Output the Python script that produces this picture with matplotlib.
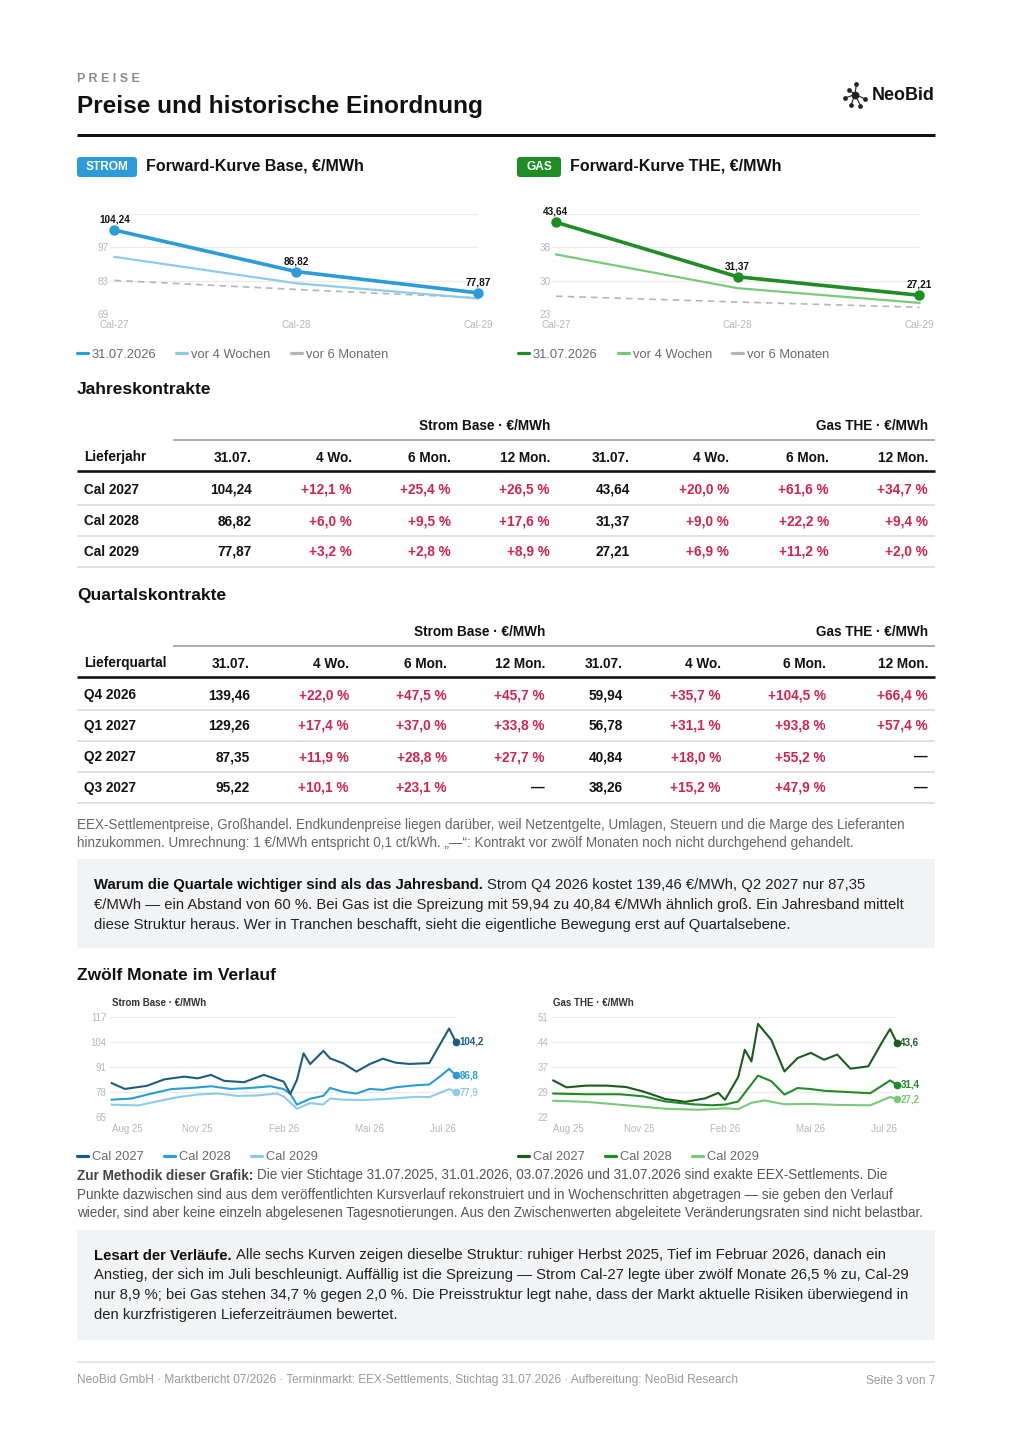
import matplotlib
matplotlib.use('Agg')
import matplotlib.pyplot as plt
from matplotlib.patches import FancyBboxPatch, Rectangle
import numpy as np

W, H = 1012, 1432
plt.rcParams['font.family'] = ['Liberation Sans', 'DejaVu Sans']

# ---------------- Daten ----------------
fwd_labels = ['Cal-27', 'Cal-28', 'Cal-29']
strom_now = [104.24, 86.82, 77.87]
strom_4w = [93.0, 81.9, 75.5]
strom_6m = [83.1, 79.3, 75.8]
gas_now = [43.64, 31.37, 27.21]
gas_4w = [36.4, 28.8, 25.5]
gas_6m = [27.0, 25.7, 24.5]
strom_fwd_ticks = [69, 83, 97, 111]
strom_fwd_labels = ['69', '83', '97']
gas_fwd_ticks = [23, 30.5, 38, 45.5]
gas_fwd_labels = ['23', '30', '38']

jahr_rows = ['Cal 2027', 'Cal 2028', 'Cal 2029']
jahr_strom_price = [104.24, 86.82, 77.87]
jahr_strom_chg = [[12.1, 25.4, 26.5], [6.0, 9.5, 17.6], [3.2, 2.8, 8.9]]
jahr_gas_price = [43.64, 31.37, 27.21]
jahr_gas_chg = [[20.0, 61.6, 34.7], [9.0, 22.2, 9.4], [6.9, 11.2, 2.0]]

quartal_rows = ['Q4 2026', 'Q1 2027', 'Q2 2027', 'Q3 2027']
quartal_strom_price = [139.46, 129.26, 87.35, 95.22]
quartal_strom_chg = [[22.0, 47.5, 45.7], [17.4, 37.0, 33.8], [11.9, 28.8, 27.7], [10.1, 23.1, None]]
quartal_gas_price = [59.94, 56.78, 40.84, 38.26]
quartal_gas_chg = [[35.7, 104.5, 66.4], [31.1, 93.8, 57.4], [18.0, 55.2, None], [15.2, 47.9, None]]

col_heads = ['31.07.', '4 Wo.', '6 Mon.', '12 Mon.']

# Wochenverlauf (Woche 0 = 31.07.2025, Woche 52 = 31.07.2026)
month_ticks = [0, 13, 26, 39, 52]
month_labels = ['Aug 25', 'Nov 25', 'Feb 26', 'Mai 26', 'Jul 26']

s27_wk = [0, 2, 5.3, 8, 11, 13, 15, 17, 20, 23, 26, 27, 28, 29, 30, 32, 33, 35, 37, 39, 41, 43, 45, 48, 51, 52]
s27_val = [82.6, 79.6, 81.2, 84.6, 86.0, 85.1, 86.9, 83.8, 83.1, 86.9, 83.4, 77.0, 84.3, 98.1, 92.5, 99.4, 95.5,
           92.9, 88.6, 92.5, 95.3, 93.2, 92.6, 93.0, 111.0, 104.2]
s28_wk = [0, 3, 5.8, 9, 12, 15, 18, 21, 24, 26, 27, 28, 30, 32, 33, 35, 37, 39, 41, 43, 46, 48, 49.6, 51, 52]
s28_val = [74.0, 74.6, 77.0, 79.5, 80.1, 81.0, 79.6, 80.1, 81.0, 79.5, 77.0, 71.4, 74.5, 76.0, 80.1, 78.1, 77.2,
           79.6, 79.1, 80.5, 81.5, 81.9, 86.0, 90.0, 86.8]
s29_wk = [0, 4, 6.8, 10, 13, 16, 19, 22, 25, 26, 28, 30, 32, 33, 35, 38, 42, 46, 48, 51, 52]
s29_val = [71.4, 71.0, 73.1, 75.3, 76.7, 77.2, 76.0, 76.2, 77.2, 75.7, 69.3, 72.2, 71.5, 74.6, 74.0, 73.8, 74.5,
           75.5, 75.3, 79.5, 77.9]

g27_wk = [0, 2, 5, 8, 11, 13.6, 17, 20, 23, 25, 26, 28, 29, 30, 31, 33, 35, 37, 39, 41, 43, 45, 47.7, 50, 51, 52]
g27_val = [32.6, 30.6, 31.1, 31.1, 30.7, 29.4, 27.2, 26.4, 27.4, 29.0, 27.0, 33.6, 41.5, 38.1, 49.0, 44.4, 35.2,
           39.1, 40.6, 38.6, 40.1, 36.0, 36.7, 44.4, 47.5, 43.6]
g28_wk = [0, 5, 10, 13.6, 17, 21, 24, 26, 28, 31, 33, 35, 37, 39, 41, 45, 48, 51, 52]
g28_val = [28.8, 28.6, 28.6, 28.0, 26.5, 25.7, 25.4, 25.6, 26.5, 34.0, 32.4, 28.5, 30.4, 30.1, 29.6, 29.2, 28.9,
           32.6, 31.4]
g29_wk = [0, 5, 11, 17, 22, 26, 28, 30, 32, 35, 39, 43, 48, 51, 52]
g29_val = [26.7, 26.4, 25.4, 24.4, 24.1, 24.5, 24.3, 26.1, 26.8, 25.7, 25.8, 25.5, 25.4, 27.8, 27.2]

strom_hist_ticks = [65, 78, 91, 104, 117]
strom_hist_labels = ['65', '78', '91', '104', '117']
gas_hist_ticks = [22, 29.25, 36.5, 43.75, 51]
gas_hist_labels = ['22', '29', '37', '44', '51']

# ---------------- Farben ----------------
BLUE = '#2b9cd8'
BLUE_L = '#8ecbea'
NAVY = '#1c5d7e'
GREEN = '#1f8c24'
GREEN_L = '#79c978'
GREEN_D = '#1b5c1d'
GREY_D = '#b5b5b5'
RED = '#d4244b'
TICK = '#b8b8b8'
GRID = '#ebebeb'


def de(v, nd=2):
    return f'{v:.{nd}f}'.replace('.', ',')


def pct(v):
    if v is None:
        return '—'
    return ('+' if v >= 0 else '') + de(v, 1) + ' %'


fig = plt.figure(figsize=(W / 100, H / 100), dpi=100)
page = fig.add_axes([0, 0, 1, 1])
page.set_xlim(0, W)
page.set_ylim(H, 0)
page.axis('off')
renderer = fig.canvas.get_renderer()


def txt(x, y, s, size=10, color='#222222', weight='normal', ha='left', va='center', **kw):
    if va == 'center':
        y += 1.5
    return page.text(x, y, s, fontsize=size, color=color, fontweight=weight, ha=ha, va=va, **kw)


def hline(y, x0, x1, color, lw):
    page.plot([x0, x1], [y, y], color=color, lw=lw * 0.72, solid_capstyle='butt')


def px_axes(x0, y0, x1, y1):
    ax = fig.add_axes([x0 / W, 1 - y1 / H, (x1 - x0) / W, (y1 - y0) / H])
    ax.set_facecolor('none')
    for sp in ax.spines.values():
        sp.set_visible(False)
    return ax


def rich_line(x, y, bold, rest, size, color_b, color_r):
    if bold:
        t = txt(x, y, bold, size, color_b, 'bold')
        x = t.get_window_extent(renderer).x1 + size * 0.278 * 100 / 72
    txt(x, y, rest, size, color_r)


def legend(y, items, size=9.3):
    for hx, label, color in items:
        page.plot([hx, hx + 11], [y, y], color=color, lw=3.2 * 0.72, solid_capstyle='round')
        txt(hx + 15, y, label, size, '#6a6a6a')


# ---------------- Kopf ----------------
txt(77, 78, 'P R E I S E', 8.9, '#8a8a8a', 'bold')
txt(77, 105, 'Preise und historische Einordnung', 17.6, '#111111', 'bold')
hline(135, 77, 935, '#111111', 3)

# Logo
cx, cy = 855, 94.5
for ex, ey in [(856.5, 83.5), (845, 98), (851, 105), (860.5, 105.5), (865.5, 99), (849.5, 90)]:
    page.plot([cx, ex], [cy, ey], color='#222222', lw=0.8)
    page.plot(ex, ey, 'o', color='#222222', ms=2.4)
page.plot(cx, cy, 'o', color='#222222', ms=4.6)
txt(871.5, 94, 'NeoBid', 12.9, '#111111', 'bold')


# ---------------- Forward-Kurven ----------------
def badge(x, w, label, color):
    page.add_patch(FancyBboxPatch((x, 157), w, 20, boxstyle='round,pad=0,rounding_size=3',
                                  fc=color, ec='none'))
    txt(x + w / 2, 166, label, 8.6, 'white', 'bold', ha='center')


def forward_chart(px_first, px_last, now, w4, m6, ticks, tick_labels, c_main, c_light):
    ppu = (px_last - px_first) / 2
    ax = px_axes(px_first - 4, 214, px_last, 314)
    ax.set_xlim(-4 / ppu, 2)
    ax.set_ylim(ticks[0], ticks[-1])
    for t in ticks:
        ax.axhline(t, color=GRID, lw=0.9, zorder=0)
    x = np.arange(len(fwd_labels))
    ax.plot(x, m6, color=GREY_D, lw=1.2, ls=(0, (4, 3)), clip_on=False)
    ax.plot(x, w4, color=c_light, lw=1.6, clip_on=False)
    ax.plot(x, now, color=c_main, lw=2.6, marker='o', ms=6.5, clip_on=False, zorder=5)
    for xi, v in zip(x, now):
        ax.annotate(de(v), (xi, v), xytext=(0, 7.5), textcoords='offset points', ha='center',
                    va='center', fontsize=7.2, fontweight='bold', color='#111111', zorder=6)
    ax.set_yticks(ticks[:-1])
    ax.set_yticklabels(tick_labels)
    ax.set_xticks(x)
    ax.set_xticklabels(fwd_labels)
    ax.tick_params(axis='y', length=0, pad=1, labelsize=7.2, labelcolor=TICK)
    ax.tick_params(axis='x', length=0, pad=4.5, labelsize=7.2, labelcolor=TICK)
    return ax


badge(77, 60, 'STROM', BLUE)
txt(146, 164.5, 'Forward-Kurve Base, €/MWh', 11.5, '#111111', 'bold')
forward_chart(114.5, 478, strom_now, strom_4w, strom_6m, strom_fwd_ticks, strom_fwd_labels, BLUE, BLUE_L)
legend(353, [(77, '31.07.2026', BLUE), (176, 'vor 4 Wochen', BLUE_L), (291, 'vor 6 Monaten', GREY_D)])

badge(517, 44, 'GAS', GREEN)
txt(570, 164.5, 'Forward-Kurve THE, €/MWh', 11.5, '#111111', 'bold')
forward_chart(556, 919.5, gas_now, gas_4w, gas_6m, gas_fwd_ticks, gas_fwd_labels, GREEN, GREEN_L)
legend(353, [(518, '31.07.2026', GREEN), (618, 'vor 4 Wochen', GREEN_L), (732, 'vor 6 Monaten', GREY_D)])


# ---------------- Tabellen ----------------
def table(y_group, first_label, cols, rows, sp, sc, gp, gc, row_ys):
    size = 9.8
    txt(cols[3], y_group, 'Strom Base · €/MWh', size, '#111111', 'bold', ha='right')
    txt(cols[7], y_group, 'Gas THE · €/MWh', size, '#111111', 'bold', ha='right')
    hline(y_group + 15, 173, 935, '#9a9a9a', 1.6)
    yh = y_group + 31
    txt(84, yh, first_label, size, '#111111', 'bold')
    for i, h in enumerate(col_heads + col_heads):
        txt(cols[i], yh, h, size, '#111111', 'bold', ha='right')
    hline(yh + 15, 77, 935, '#111111', 2.6)
    for r, label in enumerate(rows):
        y = row_ys[r]
        txt(84, y, label, size, '#111111', 'bold')
        txt(cols[0], y, de(sp[r]), size, '#111111', 'bold', ha='right')
        txt(cols[4], y, de(gp[r]), size, '#111111', 'bold', ha='right')
        for k in range(3):
            for base, vals in ((1, sc), (5, gc)):
                v = vals[r][k]
                txt(cols[base + k], y, pct(v), size, '#111111' if v is None else RED, 'bold', ha='right')
        hline(y + 16, 77, 935, '#dedede', 1.8)


txt(77, 388, 'Jahreskontrakte', 12.5, '#111111', 'bold')
table(425, 'Lieferjahr', [252, 352, 451, 550, 630, 729, 829, 928], jahr_rows,
      jahr_strom_price, jahr_strom_chg, jahr_gas_price, jahr_gas_chg, [488.5, 519.5, 550.5])

txt(77, 594, 'Quartalskontrakte', 12.5, '#111111', 'bold')
table(631, 'Lieferquartal', [250, 349, 447, 545, 623, 721, 826, 928], quartal_rows,
      quartal_strom_price, quartal_strom_chg, quartal_gas_price, quartal_gas_chg,
      [693.5, 724.5, 755.5, 786.5])

BODY = 10.7
NOTE = 9.75
txt(77, 823, 'EEX-Settlementpreise, Großhandel. Endkundenpreise liegen darüber, weil Netzentgelte, Umlagen, '
             'Steuern und die Marge des Lieferanten', NOTE, '#666666')
txt(77, 841, 'hinzukommen. Umrechnung: 1 €/MWh entspricht 0,1 ct/kWh. „—“: Kontrakt vor zwölf Monaten noch '
             'nicht durchgehend gehandelt.', NOTE, '#666666')

page.add_patch(Rectangle((77, 859), 858, 89, fc='#f2f3f5', ec='none'))
rich_line(94, 884, 'Warum die Quartale wichtiger sind als das Jahresband.',
          'Strom Q4 2026 kostet 139,46 €/MWh, Q2 2027 nur 87,35', BODY, '#111111', '#222222')
rich_line(94, 904, '', '€/MWh — ein Abstand von 60 %. Bei Gas ist die Spreizung mit 59,94 zu 40,84 €/MWh '
                       'ähnlich groß. Ein Jahresband mittelt', BODY, '#111111', '#222222')
rich_line(94, 924, '', 'diese Struktur heraus. Wer in Tranchen beschafft, sieht die eigentliche Bewegung '
                       'erst auf Quartalsebene.', BODY, '#111111', '#222222')

# ---------------- Zwölf Monate ----------------
txt(77, 974, 'Zwölf Monate im Verlauf', 12.5, '#111111', 'bold')


def hist_chart(px_first, px_last, title, series, ticks, tick_labels):
    ppw = (px_last - px_first) / 52
    ax = px_axes(px_first - 2, 1017, px_last, 1117)
    ax.set_xlim(-2 / ppw, 52)
    ax.set_ylim(ticks[0], ticks[-1])
    for t in ticks:
        ax.axhline(t, color=GRID, lw=0.9, zorder=0)
    for wk, vals, color in series:
        ax.plot(wk, vals, color=color, lw=1.5, clip_on=False)
        ax.plot(wk[-1], vals[-1], 'o', color=color, ms=4.5, clip_on=False)
        ax.annotate(de(vals[-1], 1), (wk[-1], vals[-1]), xytext=(2.6, 0), textcoords='offset points',
                    ha='left', va='center', fontsize=7, fontweight='bold', color=color)
    ax.set_yticks(ticks)
    ax.set_yticklabels(tick_labels)
    ax.set_xticks(month_ticks)
    ax.set_xticklabels(month_labels)
    labs = ax.get_xticklabels()
    labs[0].set_ha('left')
    labs[-1].set_ha('right')
    ax.tick_params(axis='y', length=0, pad=2.2, labelsize=7, labelcolor=TICK)
    ax.tick_params(axis='x', length=0, pad=5.2, labelsize=7, labelcolor=TICK)
    txt(px_first, 1001.5, title, 7, '#333333', 'bold')
    return ax


hist_chart(111.7, 455.7, 'Strom Base · €/MWh',
           [(s29_wk, s29_val, BLUE_L), (s28_wk, s28_val, BLUE), (s27_wk, s27_val, NAVY)],
           strom_hist_ticks, strom_hist_labels)
hist_chart(553.3, 896.7, 'Gas THE · €/MWh',
           [(g29_wk, g29_val, GREEN_L), (g28_wk, g28_val, GREEN), (g27_wk, g27_val, GREEN_D)],
           gas_hist_ticks, gas_hist_labels)
legend(1156, [(77, 'Cal 2027', NAVY), (164, 'Cal 2028', BLUE), (251, 'Cal 2029', BLUE_L)])
legend(1156, [(518, 'Cal 2027', GREEN_D), (605, 'Cal 2028', GREEN), (692, 'Cal 2029', GREEN_L)])

rich_line(77, 1174, 'Zur Methodik dieser Grafik:',
          'Die vier Stichtage 31.07.2025, 31.01.2026, 03.07.2026 und 31.07.2026 sind exakte EEX-Settlements. Die',
          NOTE, '#444444', '#555555')
rich_line(77, 1193, '', 'Punkte dazwischen sind aus dem veröffentlichten Kursverlauf rekonstruiert und in '
                        'Wochenschritten abgetragen — sie geben den Verlauf', NOTE, '#444444', '#555555')
rich_line(77, 1211, '', 'wieder, sind aber keine einzeln abgelesenen Tagesnotierungen. Aus den Zwischenwerten '
                        'abgeleitete Veränderungsraten sind nicht belastbar.', NOTE, '#444444', '#555555')

page.add_patch(Rectangle((77, 1230), 858, 110, fc='#f2f3f5', ec='none'))
rich_line(94, 1254, 'Lesart der Verläufe.',
          'Alle sechs Kurven zeigen dieselbe Struktur: ruhiger Herbst 2025, Tief im Februar 2026, danach ein',
          BODY, '#111111', '#222222')
rich_line(94, 1274, '', 'Anstieg, der sich im Juli beschleunigt. Auffällig ist die Spreizung — Strom Cal-27 '
                        'legte über zwölf Monate 26,5 % zu, Cal-29', BODY, '#111111', '#222222')
rich_line(94, 1294, '', 'nur 8,9 %; bei Gas stehen 34,7 % gegen 2,0 %. Die Preisstruktur legt nahe, dass der '
                        'Markt aktuelle Risiken überwiegend in', BODY, '#111111', '#222222')
rich_line(94, 1314, '', 'den kurzfristigeren Lieferzeiträumen bewertet.', BODY, '#111111', '#222222')

# ---------------- Fuß ----------------
hline(1362, 77, 935, '#dddddd', 1.5)
txt(77, 1379, 'NeoBid GmbH · Marktbericht 07/2026 · Terminmarkt: EEX-Settlements, Stichtag 31.07.2026 · '
              'Aufbereitung: NeoBid Research', 8.6, '#999999')
txt(935, 1379, 'Seite 3 von 7', 8.6, '#999999', ha='right')

fig.savefig('out.png', dpi=100)
